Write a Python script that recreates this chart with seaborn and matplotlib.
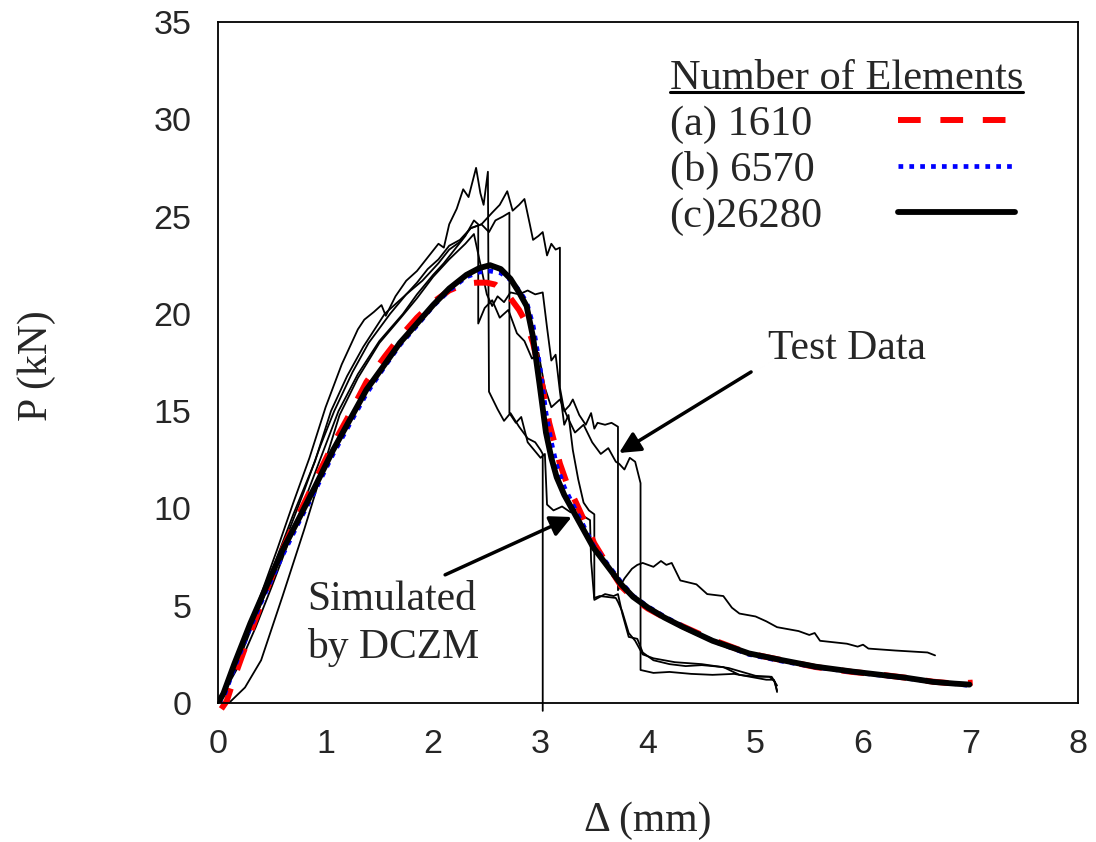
"""
Load-displacement curves: test data vs DCZM simulations with different meshes.
"""
import numpy as np
import pandas as pd
import matplotlib
matplotlib.use('Agg')
import matplotlib.pyplot as plt
from matplotlib.lines import Line2D
import seaborn as sns

# simulated curves (DCZM) for three mesh densities
sim_x = [0, 0.05, 0.15, 0.3, 0.45, 0.6, 0.76, 0.9, 1.07, 1.2, 1.38, 1.55, 1.69, 1.85, 2.0, 2.15,
         2.31, 2.43, 2.53, 2.63, 2.72, 2.8, 2.87, 2.93, 2.99, 3.05, 3.1, 3.15, 3.22, 3.3, 3.4,
         3.49, 3.6, 3.75, 3.86, 4.0, 4.15, 4.32, 4.6, 4.94, 5.25, 5.56, 5.9, 6.18, 6.4, 6.65,
         6.85, 6.99]
p_26280 = [0, 0.5, 2.0, 4.1, 6.0, 7.86, 9.57, 11.1, 13.0, 14.3, 16.1, 17.4, 18.5, 19.5, 20.45,
           21.3, 22.0, 22.35, 22.5, 22.3, 21.8, 21.1, 20.4, 18.8, 16.4, 13.9, 12.6, 11.6, 10.7,
           9.9, 8.9, 8.0, 7.2, 6.1, 5.46, 4.9, 4.4, 3.92, 3.2, 2.55, 2.2, 1.87, 1.62, 1.44, 1.3,
           1.09, 1.0, 0.95]
p_6570 = [0, 0.3, 1.8, 3.9, 5.8, 7.6, 9.4, 10.9, 12.8, 14.1, 15.9, 17.3, 18.4, 19.4, 20.4,
          21.2, 21.9, 22.15, 22.2, 22.1, 21.75, 21.2, 20.6, 19.4, 17.4, 14.9, 13.4, 12.2, 11.1,
          10.2, 9.1, 8.1, 7.3, 6.2, 5.5, 4.95, 4.45, 3.95, 3.2, 2.5, 2.15, 1.85, 1.6, 1.42, 1.28,
          1.1, 1.0, 0.9]
x_1610 = [0.03, 0.08, 0.15, 0.3, 0.45, 0.6, 0.76, 0.9, 1.07, 1.2, 1.38, 1.55, 1.69, 1.85, 2.0,
          2.15, 2.3, 2.4, 2.5, 2.58, 2.65, 2.72, 2.8, 2.87, 2.93, 3.0, 3.08, 3.18, 3.25, 3.33,
          3.42, 3.5, 3.6, 3.75, 3.86, 4.0, 4.15, 4.32, 4.6, 4.94, 5.25, 5.56, 5.9, 6.18, 6.4,
          6.65, 6.85, 7.02]
p_1610 = [-0.3, 0.1, 1.3, 3.6, 5.8, 7.9, 9.8, 11.4, 13.3, 14.6, 16.5, 17.8, 18.8, 19.8, 20.6,
          21.2, 21.55, 21.6, 21.6, 21.5, 21.2, 20.8, 20.2, 19.5, 18.5, 16.8, 14.4, 12.3, 11.2,
          10.3, 9.2, 8.2, 7.3, 6.0, 5.4, 4.85, 4.4, 3.95, 3.25, 2.55, 2.2, 1.85, 1.6, 1.45, 1.3,
          1.1, 1.0, 1.05]

# test data (five specimens)
t1_x = [0, 0.1, 0.25, 0.4, 0.55, 0.7, 0.85, 1.0, 1.15, 1.3, 1.36, 1.45, 1.52, 1.56, 1.65, 1.75,
        1.85, 1.95, 2.05, 2.1, 2.15, 2.22, 2.28, 2.33, 2.4, 2.44, 2.47, 2.51, 2.52, 2.6, 2.66,
        2.72, 2.8, 2.88, 2.95, 3.0, 3.02, 3.02]
t1_y = [0, 1.2, 3.4, 5.6, 7.9, 10.3, 12.6, 15.2, 17.4, 19.2, 19.7, 20.1, 20.45, 19.9, 20.9, 21.7,
        22.2, 22.9, 23.6, 23.4, 24.6, 25.4, 26.4, 26.0, 27.5, 26.2, 25.6, 27.3, 16.0, 15.1, 14.5,
        14.9, 14.2, 13.6, 13.4, 13.0, 12.8, -0.4]
t2_x = [0, 0.1, 0.3, 0.5, 0.7, 0.9, 1.05, 1.2, 1.35, 1.55, 1.75, 1.9, 2.05, 2.15, 2.25, 2.35,
        2.45, 2.55, 2.62, 2.69, 2.74, 2.8, 2.85, 2.9, 2.93, 2.98, 3.02, 3.06, 3.1, 3.14, 3.18,
        3.18, 3.22, 3.27, 3.3, 3.36, 3.42, 3.47, 3.5, 3.53, 3.6, 3.66, 3.72, 3.72, 3.78, 3.85,
        3.9, 3.95, 4.05, 4.12, 4.17, 4.22, 4.3, 4.45, 4.55, 4.7, 4.78, 4.85, 5.0, 5.1, 5.2, 5.4,
        5.5, 5.55, 5.6, 5.85, 5.95, 6.0, 6.05, 6.3, 6.6, 6.67]
t2_y = [0, 1.2, 3.9, 6.8, 9.7, 12.4, 15.0, 16.8, 18.3, 20.0, 21.0, 21.7, 22.6, 23.3, 23.7, 24.4,
        24.6, 25.2, 25.6, 26.3, 25.3, 25.6, 25.9, 24.6, 23.8, 24.0, 24.2, 23.0, 23.6, 23.3, 23.4,
        16.2, 15.0, 15.3, 15.6, 14.8, 14.3, 14.9, 14.1, 14.4, 14.3, 14.4, 14.2, 5.8, 6.4, 6.9,
        7.1, 7.2, 7.0, 7.3, 7.1, 7.2, 6.3, 6.1, 5.6, 5.5, 4.9, 4.6, 4.45, 4.2, 3.9, 3.7, 3.5,
        3.6, 3.2, 3.05, 2.9, 3.0, 2.8, 2.7, 2.6, 2.45]
t3_x = [0, 0.15, 0.3, 0.45, 0.6, 0.8, 0.95, 1.08, 1.25, 1.4, 1.6, 1.75, 1.85, 1.95, 2.05, 2.15,
        2.25, 2.35, 2.45, 2.52, 2.58, 2.65, 2.71, 2.71, 2.77, 2.82, 2.88, 2.94, 3.0, 3.04, 3.06,
        3.12, 3.2, 3.28, 3.35, 3.4, 3.46, 3.47, 3.5, 3.6, 3.68, 3.72, 3.76, 3.82, 3.9, 3.95,
        4.05, 4.2, 4.35, 4.5, 4.7, 4.85, 5.0, 5.13, 5.18, 5.2]
t3_y = [0, 1.6, 3.7, 5.8, 8.0, 10.9, 13.2, 15.0, 17.0, 18.5, 20.0, 21.0, 21.6, 22.3, 22.8, 23.5,
        23.8, 24.4, 24.6, 24.2, 24.8, 25.0, 25.2, 14.9, 14.4, 14.7, 13.4, 13.0, 12.6, 12.8, 10.2,
        9.9, 10.1, 9.8, 10.0, 9.6, 9.4, 7.3, 5.3, 5.6, 5.5, 5.6, 4.6, 3.4, 3.3, 2.6, 2.2, 2.0,
        1.9, 1.95, 1.85, 1.45, 1.35, 1.35, 1.1, 0.57]
t4_x = [0, 0.2, 0.35, 0.5, 0.7, 0.9, 1.12, 1.3, 1.5, 1.72, 1.85, 2.0, 2.1, 2.2, 2.3, 2.38, 2.42,
        2.42, 2.48, 2.55, 2.62, 2.7, 2.78, 2.85, 2.92, 2.98, 3.04, 3.1, 3.18, 3.25, 3.32, 3.4,
        3.48, 3.56, 3.63, 3.7, 3.73, 3.78, 3.83, 3.88, 3.93, 3.93, 4.05, 4.2, 4.4, 4.6, 4.8,
        5.0, 5.1, 5.17, 5.2]
t4_y = [0, 2.0, 3.9, 6.0, 8.9, 11.8, 15.0, 16.9, 18.6, 20.0, 21.0, 22.0, 22.6, 23.3, 24.0, 24.8,
        24.6, 19.5, 20.3, 20.7, 19.8, 20.2, 19.0, 18.6, 17.7, 18.0, 16.2, 15.2, 15.6, 14.7, 13.9,
        14.3, 13.4, 12.8, 13.1, 12.4, 12.3, 12.0, 12.6, 12.4, 11.3, 1.7, 1.55, 1.6, 1.5, 1.45,
        1.5, 1.3, 1.2, 1.2, 0.65]
t5_x = [0.1, 0.25, 0.4, 0.6, 0.8, 0.95, 1.13, 1.3, 1.5, 1.7, 1.85, 2.0, 2.15, 2.3, 2.38, 2.45,
        2.5, 2.55, 2.6, 2.66, 2.72, 2.8, 2.88, 2.95, 3.02, 3.06, 3.1, 3.14, 3.18, 3.22, 3.26,
        3.3, 3.35, 3.4, 3.45, 3.5, 3.5, 3.55, 3.7, 3.72, 3.76, 3.82, 3.88, 3.95, 4.05, 4.25,
        4.5, 4.75, 5.0, 5.15, 5.2]
t5_y = [0, 0.8, 2.2, 5.5, 8.9, 11.6, 14.8, 16.7, 18.5, 19.8, 20.8, 21.9, 22.8, 23.6, 24.1, 22.3,
        21.0, 20.4, 20.9, 20.6, 21.1, 21.0, 21.2, 21.0, 21.1, 19.3, 17.6, 17.9, 16.0, 14.3, 14.8,
        13.0, 11.5, 10.3, 9.9, 9.7, 5.4, 5.5, 5.4, 5.2, 4.7, 3.6, 3.2, 2.5, 2.3, 2.1, 2.0, 1.8,
        1.4, 1.35, 0.9]

tests = [(t1_x, t1_y), (t2_x, t2_y), (t3_x, t3_y), (t4_x, t4_y), (t5_x, t5_y)]
test_df = pd.concat([pd.DataFrame({'d': tx, 'p': ty, 'run': i})
                     for i, (tx, ty) in enumerate(tests)], ignore_index=True)

labels = ['(a) 1610', '(b) 6570', '(c)26280']

sns.set_style('white')
serif = 'Liberation Serif'
plt.rcParams['font.family'] = ['Liberation Sans', 'DejaVu Sans']

fig = plt.figure(figsize=(10.96, 8.42), dpi=100)
ax = fig.add_axes([0.199, 0.165, 0.7846, 0.809])

sns.lineplot(data=test_df, x='d', y='p', units='run', estimator=None, sort=False,
             color='black', lw=1.3, ax=ax, clip_on=False)
sns.lineplot(x=x_1610, y=p_1610, sort=False, color='red', lw=4.3,
             linestyle=(0, (3.8, 3.3)), ax=ax, clip_on=False)
h_a = ax.lines[-1]
sns.lineplot(x=sim_x, y=p_6570, sort=False, color='blue', lw=3.4,
             linestyle=(0, (1, 1.3)), ax=ax)
h_b = ax.lines[-1]
sns.lineplot(x=sim_x, y=p_26280, sort=False, color='black', lw=4.2, ax=ax)
h_c = ax.lines[-1]

ax.set_xlim(0, 8)
ax.set_ylim(0, 35)
ax.set_xticks(range(0, 9))
ax.set_yticks(range(0, 36, 5))
ax.tick_params(direction='in', length=10, width=1.3, labelsize=24.5, pad=19,
               top=False, right=False)
for s in ax.spines.values():
    s.set_linewidth(1.3)
    s.set_color('black')

ax.set_xlabel('Δ (mm)', fontfamily=serif, fontsize=30)
ax.set_ylabel('P (kN)', fontfamily=serif, fontsize=30)
ax.xaxis.set_label_coords(0.5, -0.145)
ax.yaxis.set_label_coords(-0.189, 0.496)

# annotations
ax.annotate('Test Data', xy=(3.73, 12.85), xytext=(5.12, 18.2),
            fontfamily=serif, fontsize=30, va='center', ha='left',
            arrowprops=dict(arrowstyle='-|>', color='black', lw=2.5, mutation_scale=32,
                            shrinkA=0, shrinkB=0, relpos=(-0.11, -0.1)))
ax.annotate('Simulated\nby DCZM', xy=(3.29, 9.56), xytext=(0.83, 4.1),
            fontfamily=serif, fontsize=30, va='center', ha='left', linespacing=1.3,
            arrowprops=dict(arrowstyle='-|>', color='black', lw=2.5, mutation_scale=32,
                            shrinkA=0, shrinkB=0, relpos=(0.8, 1.06)))

fs = 30.5
pad = 1.78
leg = ax.legend(handles=[h_a, h_b, h_c], labels=labels, title='Number of Elements',
                loc='upper left', bbox_to_anchor=(0.525, 0.945), frameon=False,
                markerfirst=False, prop={'family': serif, 'size': fs},
                title_fontproperties={'family': serif, 'size': fs}, alignment='left',
                handlelength=2.75, handletextpad=pad, labelspacing=0.17,
                borderpad=0, borderaxespad=0)

# left-align the labels while keeping the line samples in one column
fig.canvas.draw()
renderer = fig.canvas.get_renderer()
widths = [t.get_window_extent(renderer).width for t in leg.get_texts()]
col = leg._legend_handle_box.get_children()[0]
col.align = 'left'
for item, w in zip(col.get_children(), widths):
    item.sep = pad * fs + (max(widths) - w) * 72 / fig.dpi

# underline the legend title
fig.canvas.draw()
bb = leg.get_title().get_window_extent(renderer)
W, H = fig.get_size_inches() * fig.dpi
uy = (bb.y0 + 6) / H
fig.add_artist(Line2D([bb.x0 / W, bb.x1 / W], [uy, uy], color='black', lw=2.2))

plt.savefig('out.png', dpi=100)
